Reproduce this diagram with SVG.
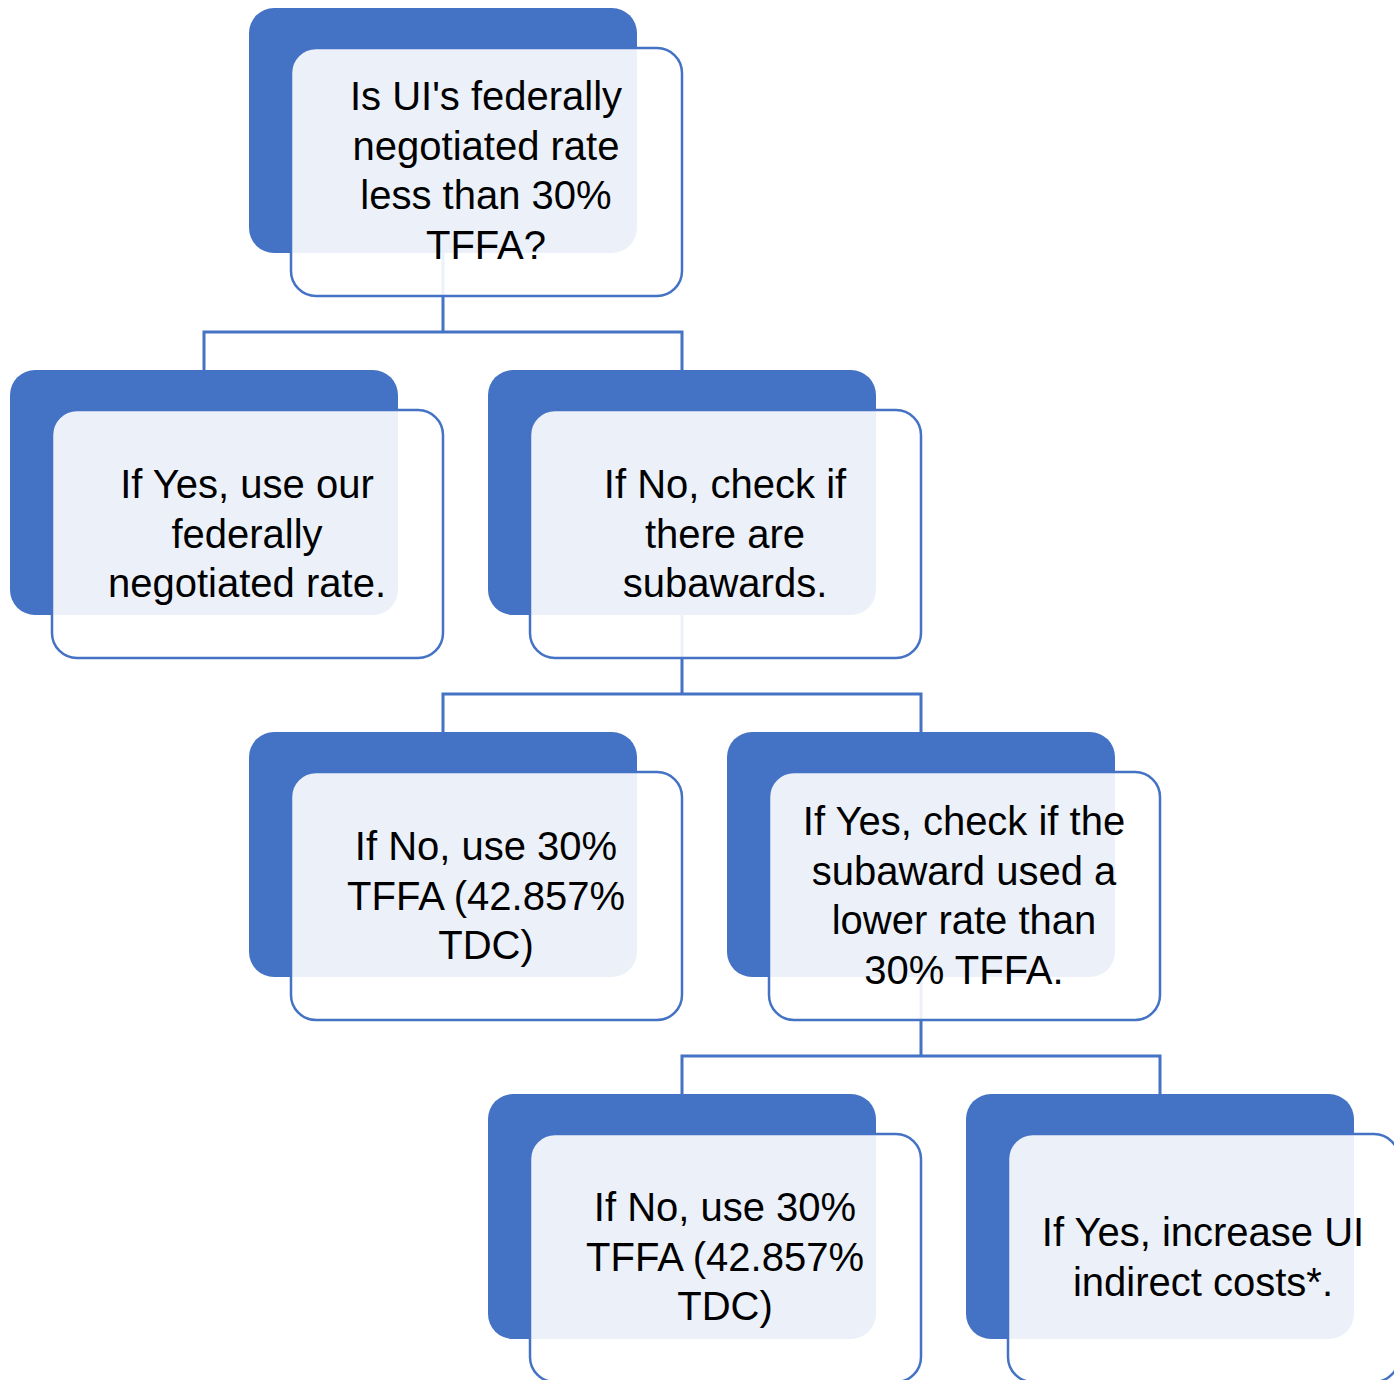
<svg xmlns="http://www.w3.org/2000/svg" width="1394" height="1380" viewBox="0 0 1394 1380">
<style>
.back{fill:#4472C4;}
.front{fill:#FFFFFF;fill-opacity:0.9;stroke:#4472C4;stroke-width:2.5;}
.conn{fill:none;stroke:#4472C4;stroke-width:3;}
text{font-family:"Liberation Sans",Arial,sans-serif;font-size:40px;fill:#000000;text-anchor:middle;}
</style>
<rect width="1394" height="1380" fill="#FFFFFF"/>
<g id="connectors">
<path class="conn" d="M443 253 V332 M204 370 V332 H682 V370"/>
<path class="conn" d="M682 615 V694 M443 732 V694 H921 V732"/>
<path class="conn" d="M921 977 V1056 M682 1094 V1056 H1160 V1094"/>
</g>
<g id="n1">
<rect class="back" x="249" y="8" width="388" height="245" rx="25"/>
<rect class="front" x="291" y="48" width="391" height="248" rx="25"/>
<text x="486" y="110">Is UI's federally</text>
<text x="486" y="159.5">negotiated rate</text>
<text x="486" y="209">less than 30%</text>
<text x="486" y="258.5">TFFA?</text>
</g>
<g id="n2">
<rect class="back" x="10" y="370" width="388" height="245" rx="25"/>
<rect class="front" x="52" y="410" width="391" height="248" rx="25"/>
<text x="247" y="498">If Yes, use our</text>
<text x="247" y="548">federally</text>
<text x="247" y="597">negotiated rate.</text>
</g>
<g id="n3">
<rect class="back" x="488" y="370" width="388" height="245" rx="25"/>
<rect class="front" x="530" y="410" width="391" height="248" rx="25"/>
<text x="725" y="498">If No, check if</text>
<text x="725" y="548">there are</text>
<text x="725" y="597">subawards.</text>
</g>
<g id="n4">
<rect class="back" x="249" y="732" width="388" height="245" rx="25"/>
<rect class="front" x="291" y="772" width="391" height="248" rx="25"/>
<text x="486" y="860">If No, use 30%</text>
<text x="486" y="910">TFFA (42.857%</text>
<text x="486" y="959">TDC)</text>
</g>
<g id="n5">
<rect class="back" x="727" y="732" width="388" height="245" rx="25"/>
<rect class="front" x="769" y="772" width="391" height="248" rx="25"/>
<text x="964" y="835">If Yes, check if the</text>
<text x="964" y="884.5">subaward used a</text>
<text x="964" y="934">lower rate than</text>
<text x="964" y="983.5">30% TFFA.</text>
</g>
<g id="n6">
<rect class="back" x="488" y="1094" width="388" height="245" rx="25"/>
<rect class="front" x="530" y="1134" width="391" height="248" rx="25"/>
<text x="725" y="1221">If No, use 30%</text>
<text x="725" y="1271">TFFA (42.857%</text>
<text x="725" y="1320">TDC)</text>
</g>
<g id="n7">
<rect class="back" x="966" y="1094" width="388" height="245" rx="25"/>
<rect class="front" x="1008" y="1134" width="391" height="248" rx="25"/>
<text x="1203" y="1246">If Yes, increase UI</text>
<text x="1203" y="1296">indirect costs*.</text>
</g>
</svg>
